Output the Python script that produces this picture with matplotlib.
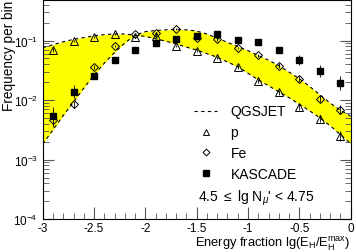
import numpy as np
from matplotlib import pyplot as plt
from matplotlib.ticker import MultipleLocator, LogLocator, NullFormatter

plt.rcParams['font.family'] = ['Liberation Sans', 'DejaVu Sans']
plt.rcParams['mathtext.fontset'] = 'custom'
plt.rcParams['mathtext.rm'] = 'Liberation Sans'
plt.rcParams['mathtext.it'] = 'Liberation Sans:italic'
plt.rcParams['axes.unicode_minus'] = False

# measured points: energy fraction and lg(frequency per bin)
x_pts = [-2.9, -2.7, -2.5, -2.3, -2.1, -1.9, -1.7, -1.5, -1.3, -1.1, -0.9, -0.7, -0.5, -0.3, -0.1]
p_lg = [-1.16, -1.01, -0.94, -0.89, -0.94, -0.93, -1.09, -1.17, -1.285, -1.44, -1.68, -1.87, -2.11, -2.31, -2.60]
fe_lg = [-2.34, -2.07, -1.44, -1.09, -0.89, -0.88, -0.81, -0.95, -0.98, -1.13, -1.25, -1.42, -1.64, -1.98, -2.16]
kas_lg = [-2.26, -1.86, -1.59, -1.33, -1.16, -1.04, -0.98, -0.92, -0.89, -0.99, -1.03, -1.16, -1.33, -1.51, -1.71]
# error half widths in decades
p_err = [0.03, 0.02, 0.02, 0.02, 0.02, 0.02, 0.02, 0.02, 0.02, 0.03, 0.03, 0.04, 0.05, 0.06, 0.08]
fe_err = [0.12, 0.06, 0.03, 0.02, 0.02, 0.02, 0.02, 0.02, 0.02, 0.02, 0.03, 0.04, 0.05, 0.06, 0.08]
kas_err = [0.14, 0.11, 0.05, 0.03, 0.02, 0.02, 0.02, 0.02, 0.02, 0.03, 0.04, 0.05, 0.08, 0.10, 0.12]

# QGSJET band edges
x_band = [-3.0, -2.9, -2.8, -2.7, -2.6, -2.5, -2.4, -2.3, -2.2, -2.1, -2.0,
          -1.9, -1.8, -1.7, -1.6, -1.5, -1.4, -1.3, -1.2, -1.1, -1.0,
          -0.9, -0.8, -0.7, -0.6, -0.5, -0.4, -0.3, -0.2, -0.1, 0.0]
band_p_lg = [-1.12, -1.07, -1.02, -0.98, -0.95, -0.92, -0.90, -0.89, -0.89, -0.91, -0.93,
             -0.97, -1.01, -1.06, -1.11, -1.16, -1.22, -1.28, -1.36, -1.44, -1.55,
             -1.66, -1.76, -1.86, -1.96, -2.07, -2.18, -2.30, -2.43, -2.58, -2.73]
band_fe_lg = [-2.74, -2.50, -2.26, -2.03, -1.80, -1.58, -1.38, -1.20, -1.04, -0.91, -0.85,
              -0.83, -0.82, -0.81, -0.82, -0.84, -0.89, -0.96, -1.03, -1.10, -1.17,
              -1.25, -1.33, -1.42, -1.53, -1.64, -1.77, -1.91, -2.05, -2.17, -2.27]


def to_lin(lg, err):
    y = 10 ** np.array(lg)
    e = np.array(err)
    return y, [y - y * 10 ** -e, y * 10 ** e - y]


fig = plt.figure(figsize=(3.56, 2.53), dpi=100)
ax = fig.add_axes([0.12, 0.13, 0.865, 0.866])

bp = 10 ** np.array(band_p_lg)
bf = 10 ** np.array(band_fe_lg)
ax.fill_between(x_band, bp, bf, color='#ffff00', lw=0)
ax.plot(x_band, bp, 'k--', lw=0.8, dashes=(3, 3))
ax.plot(x_band, bf, 'k--', lw=0.8, dashes=(3, 3))

y, e = to_lin(p_lg, p_err)
ax.errorbar(x_pts, y, yerr=e, fmt='^', mfc='none', mec='k', mew=0.7, ms=5.5,
            ecolor='k', elinewidth=0.6, capsize=0)
y, e = to_lin(fe_lg, fe_err)
ax.errorbar(x_pts, y, yerr=e, fmt='D', mfc='none', mec='k', mew=0.7, ms=4.5,
            ecolor='k', elinewidth=0.6, capsize=0)
y, e = to_lin(kas_lg, kas_err)
ax.errorbar(x_pts, y, yerr=e, fmt='s', mfc='k', mec='k', ms=5,
            ecolor='k', elinewidth=0.6, capsize=0)

ax.set_yscale('log')
ax.set_xlim(-3, 0)
ax.set_ylim(1e-4, 0.48)

ax.xaxis.set_minor_locator(MultipleLocator(0.1))
ax.set_xticks([-3, -2.5, -2, -1.5, -1, -0.5, 0])
ax.set_xticklabels(['-3', '-2.5', '-2', '-1.5', '-1', '-0.5', '0'])
ax.yaxis.set_major_locator(LogLocator(base=10, numticks=10))
ax.yaxis.set_minor_locator(LogLocator(base=10, subs=np.arange(2, 10), numticks=20))
ax.yaxis.set_minor_formatter(NullFormatter())

ax.tick_params(which='both', direction='in', right=True, top=False, labelsize=8.5, color='#555555')
ax.tick_params(axis='x', which='major', length=9, pad=2)
ax.tick_params(axis='x', which='minor', length=4.5)
ax.tick_params(axis='y', which='major', length=8)
ax.tick_params(axis='y', which='minor', length=4)
for s in ax.spines.values():
    s.set_linewidth(0.8)

ax.set_xlabel(r'Energy fraction lg(E$_{\rm H}$/E$_{\rm H}^{\rm max}$)', fontsize=9.3, loc='right')
ax.xaxis.set_label_coords(1.0, -0.072)
ax.set_ylabel('Frequency per bin', fontsize=9.8, loc='top')
ax.yaxis.set_label_coords(-0.088, 1.0)

h1, = ax.plot([], [], 'k--', lw=0.8, dashes=(3, 3))
h2, = ax.plot([], [], '^', mfc='none', mec='k', mew=0.7, ms=4)
h3, = ax.plot([], [], 'D', mfc='none', mec='k', mew=0.7, ms=3.5)
h4, = ax.plot([], [], 's', mfc='k', mec='k', ms=4)
ax.legend([h1, h2, h3, h4], ['QGSJET', 'p', 'Fe', 'KASCADE'], loc='upper left',
          bbox_to_anchor=(0.47, 0.555), frameon=False, fontsize=10,
          handlelength=1.6, handletextpad=1.0, labelspacing=0.5, borderpad=0)
ax.text(0.505, 0.10, r"4.5 $\leq$ lg N$_{\mu}$' < 4.75", transform=ax.transAxes,
        fontsize=10, va='center', ha='left')

fig.savefig('out.png', dpi=100)
